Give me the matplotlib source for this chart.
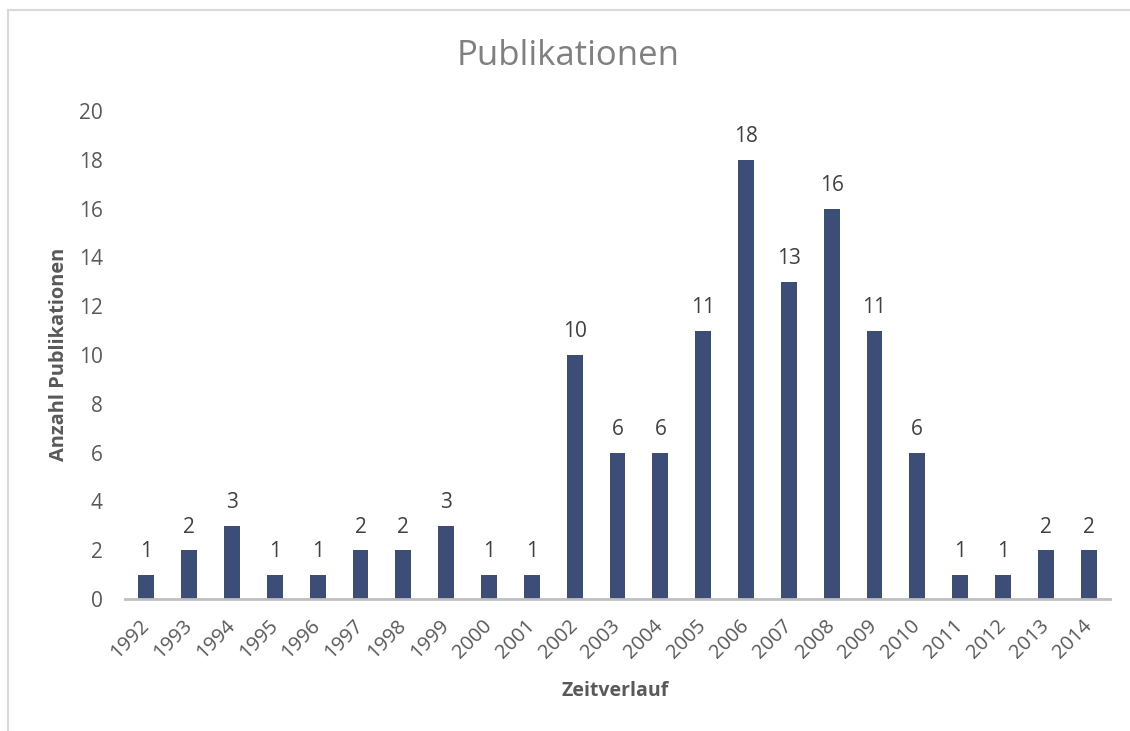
import matplotlib
matplotlib.use("Agg")
import matplotlib.pyplot as plt
from matplotlib.patches import Rectangle

years = ["1992", "1993", "1994", "1995", "1996", "1997", "1998", "1999", "2000", "2001",
         "2002", "2003", "2004", "2005", "2006", "2007", "2008", "2009", "2010", "2011",
         "2012", "2013", "2014"]
counts = [1, 2, 3, 1, 1, 2, 2, 3, 1, 1, 10, 6, 6, 11, 18, 13, 16, 11, 6, 1, 1, 2, 2]
yticks = [0, 2, 4, 6, 8, 10, 12, 14, 16, 18, 20]

plt.rcParams['font.family'] = ['Open Sans', 'DejaVu Sans']
W, H = 1130, 731
fig = plt.figure(figsize=(W / 100, H / 100), dpi=100)
fig.patch.set_facecolor('white')

# chart border (light grey), extends past right/bottom edges
fig.patches.append(Rectangle((8 / W, -0.05), 1.2, 1 - 10 / H + 0.05, transform=fig.transFigure,
                             fill=False, edgecolor='#D9D9D9', linewidth=1.5))

ax = fig.add_axes([125 / W, 1 - 599 / H, (1110 - 125) / W, (599 - 111) / H])
x = list(range(len(years)))
bars = ax.bar(x, counts, width=0.37, color='#3C4E78', zorder=2)
ax.set_xlim(-0.5, len(years) - 0.5)
ax.set_ylim(0, 20)
ax.set_yticks(yticks)
ax.set_yticklabels([str(v) for v in yticks], fontsize=15, color='#595959')
ax.set_xticks(x)
ax.set_xticklabels(years, rotation=45, ha='right', va='center', rotation_mode='anchor',
                   fontsize=14.5, color='#595959')
ax.tick_params(axis='both', length=0)
ax.tick_params(axis='x', pad=17)
ax.tick_params(axis='y', pad=16)
for s in ['top', 'right', 'left']:
    ax.spines[s].set_visible(False)
ax.spines['bottom'].set_color('#BFBFBF')
ax.spines['bottom'].set_linewidth(2)

for xi, v in zip(x, counts):
    ax.annotate(str(v), (xi, v), xytext=(0, 9), textcoords='offset points',
                ha='center', va='bottom', fontsize=15, color='#404040')

fig.text(568 / W, 1 - 56 / H, "Publikationen", ha='center', va='center',
         fontsize=25, color='#808080')
fig.text(615 / W, 1 - 691 / H, "Zeitverlauf", ha='center', va='center',
         fontsize=14, fontweight='bold', color='#595959')
fig.text(59 / W, 1 - 354 / H, "Anzahl Publikationen", ha='center', va='center',
         rotation=90, fontsize=14.4, fontweight='bold', color='#595959')

fig.savefig("out.png", dpi=100)
